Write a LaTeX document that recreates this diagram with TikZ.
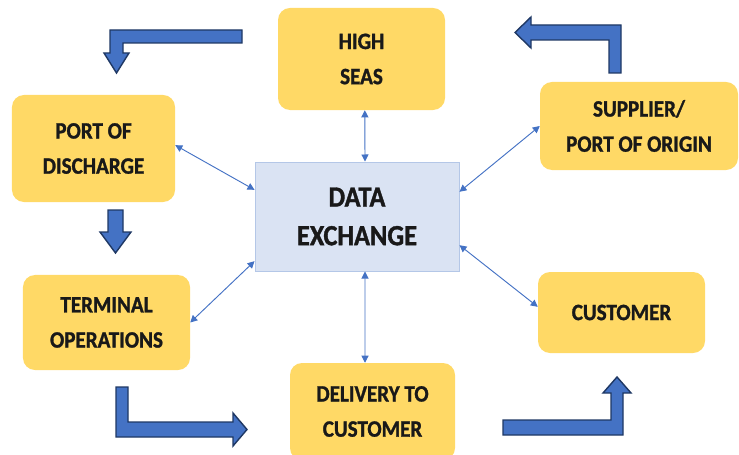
\documentclass[tikz,border=0pt]{standalone}
\usepackage{fontspec}
\setmainfont{Carlito}[FakeStretch=0.9,BoldFeatures={FakeBold=1.2}]
\usepackage{tikz}
\usetikzlibrary{arrows.meta}
\definecolor{boxyellow}{HTML}{FFD966}
\definecolor{databox}{HTML}{DAE3F3}
\definecolor{dataline}{HTML}{B4C7E7}
\definecolor{linkblue}{HTML}{4472C4}
\definecolor{navy}{HTML}{1F3864}

\begin{document}
\begin{tikzpicture}[x=0.03cm,y=-0.03cm,
    step box/.style={fill=boxyellow,rounded corners=0.36cm,align=center,
      text=black!90,font=\bfseries\fontsize{20}{30}\selectfont,inner sep=0pt},
    link/.style={linkblue,line width=0.8pt,
      {Triangle[length=6pt,width=6pt]}-{Triangle[length=6pt,width=6pt]}},
    flow/.style={fill=linkblue,draw=navy,line width=1.2pt,line join=miter}]
  \useasboundingbox (0,0) rectangle (739,455) ;

  % les cases
  \node[step box,minimum width=5.01cm,minimum height=3.06cm] (high)
    at (361.5,59) {HIGH\\SEAS} ;
  \node[step box,minimum width=5.94cm,minimum height=2.64cm] (sup)
    at (639,126) {SUPPLIER/\\PORT OF ORIGIN} ;
  \node[step box,minimum width=4.89cm,minimum height=3.21cm] (dis)
    at (93.5,148.5) {PORT OF\\DISCHARGE} ;
  \node[step box,minimum width=5.01cm,minimum height=2.85cm] (term)
    at (106.5,322.5) {TERMINAL\\OPERATIONS} ;
  \node[step box,minimum width=5.01cm,minimum height=2.43cm] (cust)
    at (621.5,312.5) {CUSTOMER} ;
  \node[step box,minimum width=4.95cm,minimum height=2.91cm] (deliv)
    at (372.5,411.5) {DELIVERY TO\\CUSTOMER} ;
  \node[fill=databox,draw=dataline,line width=0.8pt,align=center,
    minimum width=6.12cm,minimum height=3.27cm,text=black!90,
    font=\bfseries\fontsize{25}{33}\selectfont] (data)
    at (357,216.5) {DATA\\EXCHANGE} ;

  % liaisons avec l'échange de données
  \draw[link] ([xshift=0.1cm]high.south) -- ([xshift=0.24cm]data.north) ;
  \draw[link] ([yshift=0.1cm]dis.east) -- ([yshift=0.8cm]data.west) ;
  \draw[link] (sup.west) -- ([yshift=0.74cm]data.east) ;
  \draw[link] (term.east) -- ([yshift=-1.34cm]data.west) ;
  \draw[link] ([yshift=0.17cm]cust.west) -- ([yshift=-0.86cm]data.east) ;
  \draw[link] ([xshift=-0.225cm]deliv.north) -- ([xshift=0.24cm]data.south) ;

  % grosses flèches du circuit
  \filldraw[flow] (242,30) -- (110,30) -- (110,53) -- (104,53)
    -- (116.5,73) -- (129,53) -- (123,53) -- (123,43) -- (242,43) -- cycle ;
  \filldraw[flow] (609,73) -- (621,73) -- (621,25) -- (531,25) -- (531,17)
    -- (515,32.5) -- (531,48) -- (531,40) -- (609,40) -- cycle ;
  \filldraw[flow] (108,210) -- (123,210) -- (123,232) -- (131,232)
    -- (115.5,253) -- (100,232) -- (108,232) -- cycle ;
  \filldraw[flow] (116,387) -- (128,387) -- (128,422) -- (233,422)
    -- (233,413) -- (247,429.5) -- (233,446) -- (233,437) -- (116,437)
    -- cycle ;
  \filldraw[flow] (503,420) -- (611,420) -- (611,393) -- (603,393)
    -- (617,377) -- (631,393) -- (623,393) -- (623,435) -- (503,435)
    -- cycle ;
\end{tikzpicture}
\end{document}
